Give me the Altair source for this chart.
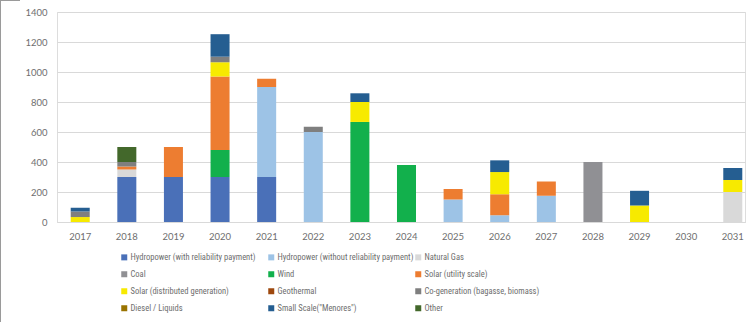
import altair as alt
import pandas as pd

years = [str(y) for y in range(2017, 2032)]

series_names = [
    "Hydropower (with reliability payment)",
    "Hydropower (without reliability payment)",
    "Natural Gas",
    "Coal",
    "Wind",
    "Solar (utility scale)",
    "Solar (distributed generation)",
    "Geothermal",
    "Co-generation (bagasse, biomass)",
    "Diesel / Liquids",
    "Small Scale(\"Menores\")",
    "Other",
]
series_colors = [
    "#4A70B8", "#9DC3E6", "#D9D9D9", "#909094", "#12B04C", "#ED7D31",
    "#F7EA00", "#9E480E", "#7F7F7F", "#997300", "#255E91", "#43682B",
]

# capacity additions per year, 2017..2031 (MW)
hydro_rel   = [0, 300, 300, 300, 300, 0, 0, 0, 0, 0, 0, 0, 0, 0, 0]
hydro_norel = [0, 0, 0, 0, 600, 600, 0, 0, 150, 45, 175, 0, 0, 0, 0]
natural_gas = [0, 50, 0, 0, 0, 0, 0, 0, 0, 0, 0, 0, 0, 0, 200]
coal        = [0, 0, 0, 0, 0, 0, 0, 0, 0, 0, 0, 400, 0, 0, 0]
wind        = [0, 0, 0, 180, 0, 0, 667, 380, 0, 0, 0, 0, 0, 0, 0]
solar_util  = [0, 20, 200, 490, 55, 0, 0, 0, 70, 140, 95, 0, 0, 0, 0]
solar_dg    = [33, 0, 0, 95, 0, 0, 133, 0, 0, 148, 0, 0, 110, 0, 80]
geothermal  = [0] * 15
cogen       = [37, 30, 0, 37, 0, 35, 0, 0, 0, 0, 0, 0, 0, 0, 0]
diesel      = [0] * 15
small_scale = [25, 0, 0, 150, 0, 0, 58, 0, 0, 78, 0, 0, 98, 0, 80]
other       = [0, 100, 0, 0, 0, 0, 0, 0, 0, 0, 0, 0, 0, 0, 0]

all_series = [hydro_rel, hydro_norel, natural_gas, coal, wind, solar_util,
              solar_dg, geothermal, cogen, diesel, small_scale, other]

rows = []
for idx, (name, vals) in enumerate(zip(series_names, all_series)):
    for year, v in zip(years, vals):
        if v > 0:
            rows.append({"year": year, "series": name, "idx": idx, "value": v})
df = pd.DataFrame(rows)

FONT = "Lato"
LEGEND_FONT = "Roboto Condensed, DejaVu Sans Condensed, Lato"
TEXT = "#6E6E6E"
GRID = "#D9D9D9"

bars = alt.Chart(df).mark_bar().encode(
    x=alt.X("year:N", sort=years, title=None,
            scale=alt.Scale(domain=years, paddingInner=0.592, paddingOuter=0.176, align=0.835),
            axis=alt.Axis(labelAngle=0, ticks=False, domainColor=GRID, labelPadding=9,
                          labelFontSize=9.5, labelColor=TEXT, labelFont=FONT)),
    y=alt.Y("value:Q", stack="zero", title=None,
            scale=alt.Scale(domain=[0, 1400], nice=False),
            axis=alt.Axis(values=list(range(0, 1401, 200)), format="d", domain=False,
                          ticks=False, gridColor=GRID, labelPadding=10, labelFontSize=9.5,
                          labelColor=TEXT, labelFont=FONT)),
    color=alt.Color("series:N", title=None,
                    scale=alt.Scale(domain=series_names, range=series_colors),
                    legend=alt.Legend(orient="none", direction="horizontal",
                                      legendX=63, legendY=241, columns=3,
                                      gridAlign="all", columnPadding=0, rowPadding=8,
                                      symbolType="square", symbolSize=36, symbolStrokeWidth=0,
                                      labelOffset=2, labelFontSize=8.5, labelColor=TEXT,
                                      labelFont=LEGEND_FONT, labelLimit=400, padding=0)),
    order=alt.Order("idx:Q", sort="ascending"),
)

# chart frame edges
frame_left = alt.Chart(df).mark_rule(color="#9A9A9A", strokeWidth=1).encode(
    x=alt.value(-56.5), y=alt.value(-12), y2=alt.value(310))
frame_top = alt.Chart(df).mark_rule(color="#9A9A9A", strokeWidth=1).encode(
    x=alt.value(-57), x2=alt.value(-37), y=alt.value(-11.5))

chart = alt.layer(bars, frame_left, frame_top).properties(
    width=688, height=210,
    autosize=alt.AutoSizeParams(type="none"),
    padding={"left": 57, "top": 12, "right": 4, "bottom": 100},
).configure_view(stroke=None).configure(background="white")

chart.save("out.html", embed_options={"renderer": "svg", "actions": False})
